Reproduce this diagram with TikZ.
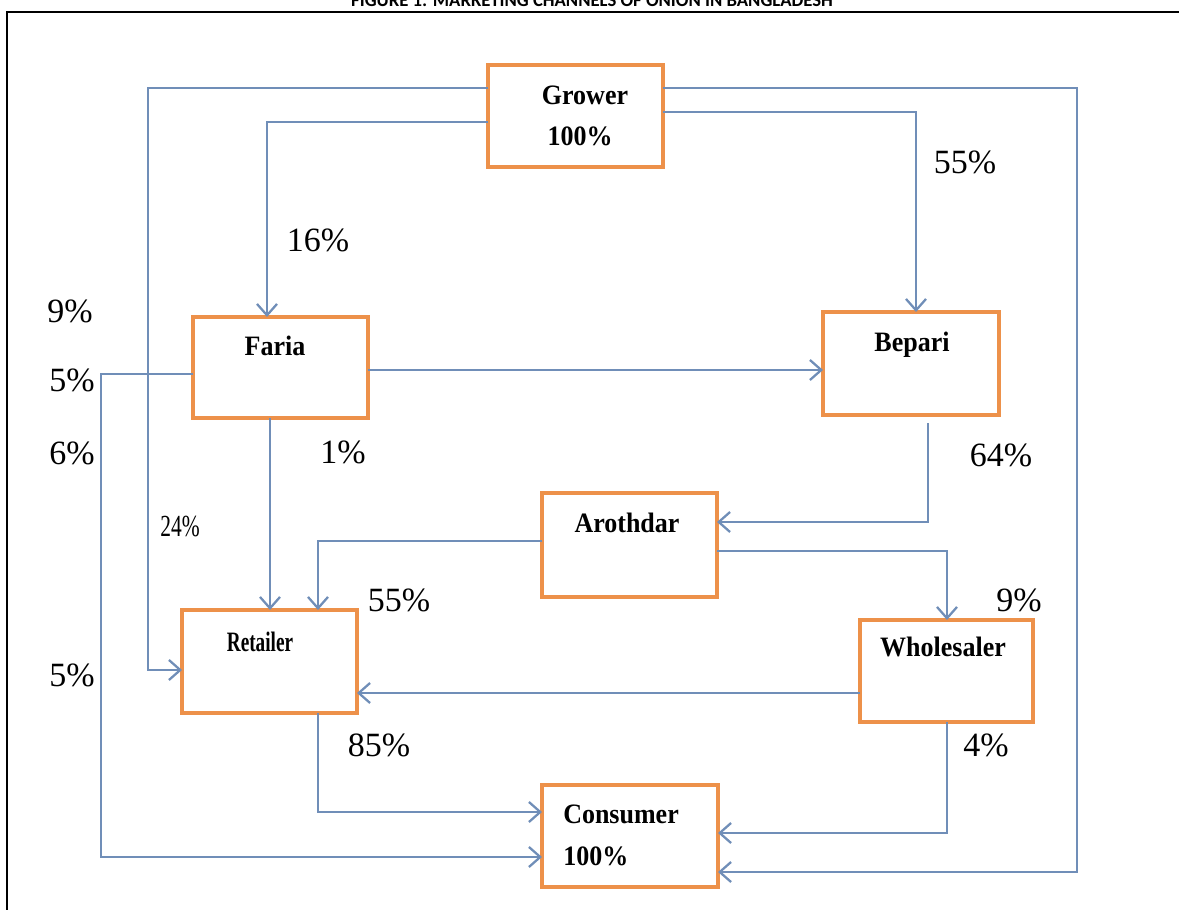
\documentclass[tikz,border=0pt]{standalone}
\usepackage{fontspec}
\setmainfont{Liberation Serif}
\newfontfamily\titlefont{Carlito}
\usetikzlibrary{arrows.meta}
\definecolor{boxor}{RGB}{237,145,74}
\definecolor{linebl}{RGB}{112,142,184}
\tikzset{
  box/.style={draw=boxor, line width=2.6pt, fill=white, inner sep=0pt, outer sep=0pt},
  boxtxt/.style={font=\fontsize{19.5}{22}\selectfont\bfseries, inner sep=0pt, yscale=1.08},
  pct/.style={font=\fontsize{25.5}{28}\selectfont, inner sep=0pt},
  conn/.style={draw=linebl, line width=1.7pt},
  arr/.style={conn, -{Straight Barb[length=8.5pt,width=15pt,line width=1.7pt]}},
}
\begin{document}
\begin{tikzpicture}[x=0.75pt,y=-0.75pt]
\useasboundingbox (0,0) rectangle (1179,910);
\clip (0,0) rectangle (1179,910);
\fill[white] (0,0) rectangle (1179,910);
% title and frame
\node[font=\titlefont\bfseries\fontsize{14}{16}\selectfont, anchor=base, inner sep=0pt] (title) at (592,6.5) {FIGURE 1: MARKETING CHANNELS OF ONION IN BANGLADESH};
\draw[line width=1.6pt] (1200,12) -- (7,12) -- (7,930);
% boxes
\node[box, minimum width=175*0.75pt, minimum height=102*0.75pt] (grower) at (575.5,116) {};
\node[box, minimum width=175*0.75pt, minimum height=101*0.75pt] (faria) at (280.5,367.5) {};
\node[box, minimum width=176*0.75pt, minimum height=103*0.75pt] (bepari) at (911,363.5) {};
\node[box, minimum width=175*0.75pt, minimum height=104*0.75pt] (arothdar) at (629.5,545) {};
\node[box, minimum width=175*0.75pt, minimum height=103*0.75pt] (retailer) at (269.5,661.5) {};
\node[box, minimum width=173*0.75pt, minimum height=102*0.75pt] (wholesaler) at (946.5,671) {};
\node[box, minimum width=176*0.75pt, minimum height=102*0.75pt] (consumer) at (630,836) {};
% box texts
\node[boxtxt] (tgrower) at (585,95) {Grower};
\node[boxtxt] (tgrowerp) at (580,136) {100\%};
\node[boxtxt] (tfaria) at (275,346) {Faria};
\node[boxtxt] (tbepari) at (912,345) {Bepari};
\node[boxtxt] (tarothdar) at (627,523) {Arothdar};
\node[boxtxt, xscale=0.74] (tretailer) at (260,642) {Retailer};
\node[boxtxt] (twholesaler) at (943,647) {Wholesaler};
\node[boxtxt, anchor=west] (tconsumer) at (563,814) {Consumer};
\node[boxtxt, anchor=west] (tconsumerp) at (563,856) {100\%};
% connectors
\draw[arr] (grower.west |- 0,88) -- (148,88) -- (148,670) -- (retailer.west |- 0,670);
\draw[arr] (grower.west |- 0,122) -- (267,122) -- (faria.north -| 267,0);
\draw[arr] (grower.east |- 0,88) -- (1077,88) -- (1077,872) -- (consumer.east |- 0,872);
\draw[arr] (grower.east |- 0,112) -- (916,112) -- (bepari.north -| 916,0);
\draw[arr] (faria.east |- 0,370) -- (bepari.west |- 0,370);
\draw[arr] (faria.west |- 0,374) -- (101,374) -- (101,857) -- (consumer.west |- 0,857);
\draw[arr] (faria.south -| 270,0) -- (retailer.north -| 270,0);
\draw[arr] ([yshift=-6pt]bepari.south -| 928,0) -- (928,522) -- (arothdar.east |- 0,522);
\draw[arr] (arothdar.west |- 0,541) -- (318,541) -- (retailer.north -| 318,0);
\draw[arr] (arothdar.east |- 0,551) -- (947,551) -- (wholesaler.north -| 947,0);
\draw[arr] (wholesaler.west |- 0,693) -- (retailer.east |- 0,693);
\draw[arr] (retailer.south -| 318,0) -- (318,812) -- (consumer.west |- 0,812);
\draw[arr] (wholesaler.south -| 947,0) -- (947,833) -- (consumer.east |- 0,833);
% percentage labels
\node[pct] (l16) at (318,240) {16\%};
\node[pct] (l55a) at (965,162) {55\%};
\node[pct] (l9a) at (70,311) {9\%};
\node[pct] (l5a) at (72,380) {5\%};
\node[pct] (l6) at (72,453) {6\%};
\node[pct, font=\fontsize{23}{26}\selectfont, xscale=0.7] (l24) at (180,526) {24\%};
\node[pct] (l1) at (343,452) {1\%};
\node[pct] (l64) at (1001,455) {64\%};
\node[pct] (l55b) at (399,600) {55\%};
\node[pct] (l9b) at (1019,600) {9\%};
\node[pct] (l5b) at (72,675) {5\%};
\node[pct] (l85) at (379,745) {85\%};
\node[pct] (l4) at (986,745) {4\%};
\end{tikzpicture}
\end{document}
